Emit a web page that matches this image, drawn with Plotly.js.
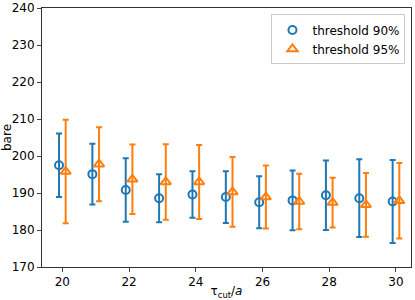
<!DOCTYPE html>
<html><head><meta charset="utf-8">
<script src="https://cdn.plot.ly/plotly-3.0.1.min.js"></script>
<style>html,body{margin:0;padding:0;background:#fff;}#chart{width:415px;height:300px;}</style>
</head><body><div id="chart"></div>
<script>
const tau = [20,21,22,23,24,25,26,27,28,29,30];
const offset90 = -0.1, offset95 = 0.1;
const val90 = [197.5,195.1,190.8,188.6,189.6,188.9,187.5,188.0,189.4,188.6,187.7];
const err90 = [8.6,8.2,8.6,6.5,6.3,7.0,7.0,8.1,9.4,10.5,11.2];
const val95 = [195.8,197.8,193.7,193.0,193.0,190.3,188.9,187.7,187.4,186.8,187.9];
const err95 = [14.0,10.0,9.4,10.2,10.0,9.4,8.5,7.5,6.7,8.6,10.2];
const names = ['threshold 90%','threshold 95%'];
const blue = '#1f77b4', orange = '#ff7f0e';
const traces = [
  {x: tau.map(t=>t+offset90), y: val90, name: names[0], type:'scatter', mode:'markers',
   marker:{symbol:'circle-open', size:8, color:blue, line:{width:2, color:blue}},
   error_y:{type:'data', array:err90, visible:true, color:blue, thickness:2, width:3}},
  {x: tau.map(t=>t+offset95), y: val95, name: names[1], type:'scatter', mode:'markers',
   marker:{symbol:'triangle-up-open', size:9, color:orange, line:{width:2, color:orange}},
   error_y:{type:'data', array:err95, visible:true, color:orange, thickness:2, width:3}}
];
const layout = {
  width:415, height:300,
  margin:{l:42, r:4, t:8, b:33},
  paper_bgcolor:'#fff', plot_bgcolor:'#fff',
  font:{family:'DejaVu Sans', size:12, color:'#000'},
  showlegend:true,
  legend:{x:0.985, y:0.975, xanchor:'right', yanchor:'top', bgcolor:'rgba(255,255,255,0.8)',
    bordercolor:'#ccc', borderwidth:1, font:{size:12}, tracegroupgap:0},
  xaxis:{range:[19.39,30.45], tickvals:[20,22,24,26,28,30], ticks:'outside', ticklen:4, tickwidth:1,
    showgrid:false, zeroline:false, showline:true, linecolor:'#333', mirror:true, linewidth:1,
    tickfont:{size:12}, title:{text:'τ<sub>cut</sub>/<i>a</i>', font:{size:12}, standoff:3}},
  yaxis:{range:[170,240], dtick:10, ticks:'outside', ticklen:4, tickwidth:1,
    showgrid:false, zeroline:false, showline:true, linecolor:'#333', mirror:true, linewidth:1,
    tickfont:{size:12}, title:{text:'bare', font:{size:12}, standoff:4}}
};
Plotly.newPlot('chart', traces, layout, {displayModeBar:false, staticPlot:true});
</script></body></html>
